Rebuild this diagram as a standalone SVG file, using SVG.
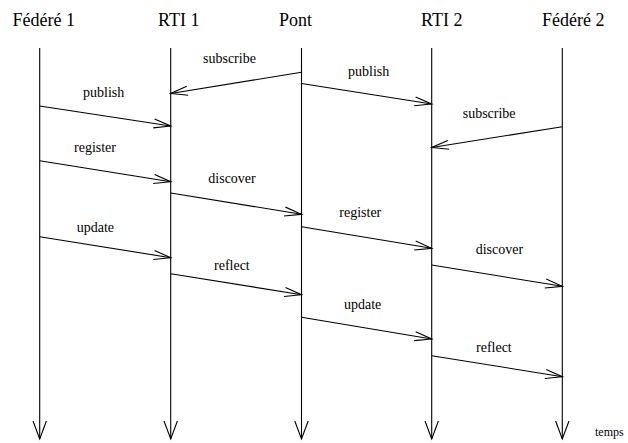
<svg xmlns="http://www.w3.org/2000/svg" width="628" height="443" viewBox="0 0 628 443">
  <style>
    .title { font-size: 18px; fill: #000; }
    .label { font-size: 14px; fill: #000; }
    .axis  { font-size: 12px; fill: #000; }
    .life  { stroke: #000; stroke-width: 1.1; fill: none; marker-end: url(#timeHead); }
    .msg   { stroke: #000; stroke-width: 1.1; fill: none; marker-end: url(#msgHead); }
  </style>
  <defs>
    <!-- open arrowhead for messages -->
    <marker id="msgHead" markerUnits="userSpaceOnUse" viewBox="-20 -8 22 16" markerWidth="22" markerHeight="16" refX="0" refY="0" orient="auto" overflow="visible">
      <path d="M-17,-4.5 L0,0 L-17,4.5" fill="none" stroke="#000" stroke-width="1.1"/>
    </marker>
    <!-- open arrowhead at the end of each time line -->
    <marker id="timeHead" markerUnits="userSpaceOnUse" viewBox="-20 -8 22 16" markerWidth="22" markerHeight="16" refX="0" refY="0" orient="auto" overflow="visible">
      <path d="M-18,-6.7 L0,0 L-18,6.7" fill="none" stroke="#000" stroke-width="1.1"/>
    </marker>
  </defs>

  <rect width="628" height="443" fill="#fff"/>

  <!-- participants and their time lines -->
  <g id="federe1">
    <text class="title" font-family="Liberation Serif" x="12.5" y="26">Fédéré 1</text>
    <line class="life" x1="39.7" y1="48" x2="39.7" y2="439"/>
  </g>
  <g id="rti1">
    <text class="title" font-family="Liberation Serif" x="158" y="26">RTI 1</text>
    <line class="life" x1="170.7" y1="48" x2="170.7" y2="439"/>
  </g>
  <g id="pont">
    <text class="title" font-family="Liberation Serif" x="279" y="26">Pont</text>
    <line class="life" x1="301.5" y1="48" x2="301.5" y2="439"/>
  </g>
  <g id="rti2">
    <text class="title" font-family="Liberation Serif" x="421" y="26">RTI 2</text>
    <line class="life" x1="431.7" y1="48" x2="431.7" y2="439"/>
  </g>
  <g id="federe2">
    <text class="title" font-family="Liberation Serif" x="542" y="26">Fédéré 2</text>
    <line class="life" x1="562.3" y1="48" x2="562.3" y2="439"/>
  </g>

  <text class="axis" font-family="Liberation Serif" x="595" y="436">temps</text>

  <!-- messages -->
  <g id="messages">
    <line class="msg" x1="301.5" y1="72.3" x2="170.7" y2="93.5"/>
    <text class="label" font-family="Liberation Serif" x="203" y="63.3">subscribe</text>

    <line class="msg" x1="301.5" y1="83.5" x2="431.7" y2="104"/>
    <text class="label" font-family="Liberation Serif" x="348" y="75.7">publish</text>

    <line class="msg" x1="39.7" y1="106" x2="170.7" y2="126"/>
    <text class="label" font-family="Liberation Serif" x="83" y="97">publish</text>

    <line class="msg" x1="562.3" y1="126.7" x2="431.7" y2="147.5"/>
    <text class="label" font-family="Liberation Serif" x="462.7" y="118.3">subscribe</text>

    <line class="msg" x1="39.7" y1="160.7" x2="170.7" y2="181.7"/>
    <text class="label" font-family="Liberation Serif" x="74" y="151.7">register</text>

    <line class="msg" x1="170.7" y1="193" x2="301.5" y2="214.3"/>
    <text class="label" font-family="Liberation Serif" x="208.3" y="183.3">discover</text>

    <line class="msg" x1="301.5" y1="226.7" x2="431.7" y2="248.3"/>
    <text class="label" font-family="Liberation Serif" x="339.3" y="216.7">register</text>

    <line class="msg" x1="431.7" y1="265" x2="562.3" y2="286.3"/>
    <text class="label" font-family="Liberation Serif" x="475.7" y="254.2">discover</text>

    <line class="msg" x1="39.7" y1="236.7" x2="170.7" y2="257.7"/>
    <text class="label" font-family="Liberation Serif" x="76.7" y="232.3">update</text>

    <line class="msg" x1="170.7" y1="273.7" x2="301.5" y2="294.7"/>
    <text class="label" font-family="Liberation Serif" x="214" y="270">reflect</text>

    <line class="msg" x1="301.5" y1="317.3" x2="431.7" y2="339"/>
    <text class="label" font-family="Liberation Serif" x="344" y="309">update</text>

    <line class="msg" x1="431.7" y1="355.7" x2="562.3" y2="376.7"/>
    <text class="label" font-family="Liberation Serif" x="476" y="352.2">reflect</text>
  </g>
</svg>
